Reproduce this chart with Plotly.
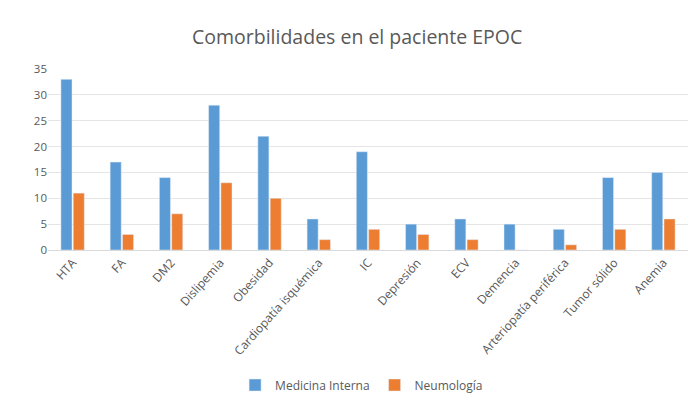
import plotly.graph_objects as go

categories = ["HTA", "FA", "DM2", "Dislipemia", "Obesidad", "Cardiopatía isquémica", "IC",
              "Depresión", "ECV", "Demencia", "Arteriopatía periférica", "Tumor sólido", "Anemia"]
medicina_interna = [33, 17, 14, 28, 22, 6, 19, 5, 6, 5, 4, 14, 15]
neumologia = [11, 3, 7, 13, 10, 2, 4, 3, 2, 0, 1, 4, 6]
y_ticks = [0, 5, 10, 15, 20, 25, 30, 35]

fig = go.Figure()
fig.add_trace(go.Bar(name="Medicina Interna", x=categories, y=medicina_interna, marker_color="#5B9BD5"))
fig.add_trace(go.Bar(name="Neumología", x=categories, y=neumologia, marker_color="#ED7D31"))

# page body adds an 8px offset; figure is sized to fit the 698x408 window
fig.update_layout(
    width=690, height=400,
    margin=dict(l=40, r=10, t=61, b=158, autoexpand=False),
    paper_bgcolor="white", plot_bgcolor="white",
    font=dict(family="Open Sans", color="#595959", size=11),
    title=dict(text="Comorbilidades en el paciente EPOC", x=0.506, xanchor="center", xref="container",
               y=1 - 29 / 400, yanchor="middle", font=dict(size=19.5, color="#595959")),
    barmode="group", bargap=0.5, bargroupgap=0.1,
    legend=dict(orientation="h", x=0.49, xanchor="center", y=-0.746, yanchor="middle",
                font=dict(size=12, color="#595959"), itemwidth=30),
    showlegend=True,
)
fig.update_yaxes(range=[0, 35], tickvals=y_ticks, showgrid=True, gridcolor="#E5E5E5",
                 zeroline=False, showline=False, ticks="", automargin=False,
                 tickfont=dict(size=11.5, color="#595959"))
fig.update_xaxes(tickangle=-48, showline=True, linecolor="#D9D9D9", ticks="", automargin=False,
                 tickfont=dict(size=12, color="#595959"))

fig.write_html("out.html")
